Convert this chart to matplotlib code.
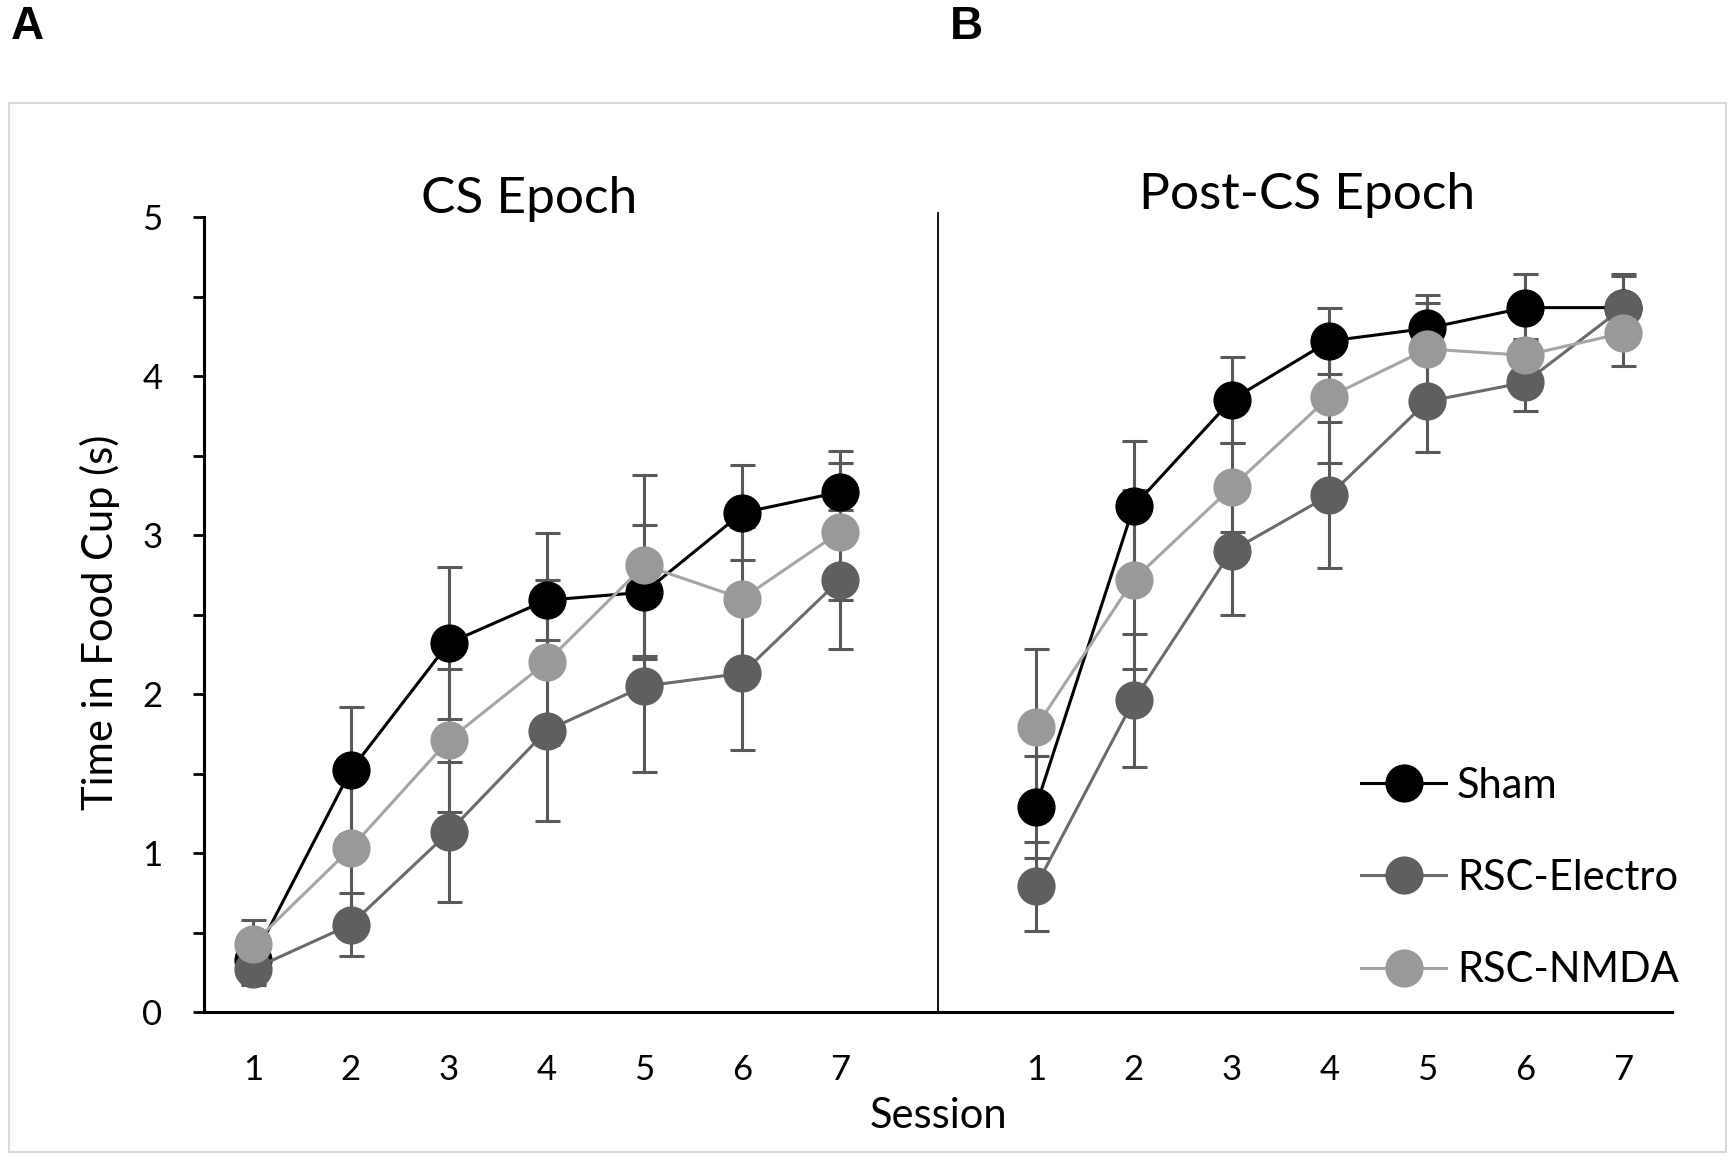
import matplotlib
matplotlib.use("Agg")
import matplotlib.pyplot as plt
import matplotlib as mpl
from matplotlib.patches import Rectangle
from matplotlib.ticker import MultipleLocator

# --- data ---
sessions = [1, 2, 3, 4, 5, 6, 7]
groups = ["Sham", "RSC-Electro", "RSC-NMDA"]

sham_cs = [0.33, 1.52, 2.32, 2.59, 2.64, 3.14, 3.27]
sham_cs_err = [0.15, 0.40, 0.48, 0.42, 0.42, 0.30, 0.26]
electro_cs = [0.27, 0.55, 1.13, 1.77, 2.05, 2.13, 2.72]
electro_cs_err = [0.10, 0.20, 0.44, 0.57, 0.54, 0.48, 0.44]
nmda_cs = [0.43, 1.03, 1.71, 2.20, 2.81, 2.60, 3.02]
nmda_cs_err = [0.15, 0.42, 0.45, 0.52, 0.57, 0.45, 0.43]

sham_post = [1.29, 3.18, 3.85, 4.22, 4.30, 4.43, 4.43]
sham_post_err = [0.32, 0.41, 0.27, 0.21, 0.21, 0.21, 0.20]
electro_post = [0.79, 1.96, 2.90, 3.25, 3.84, 3.96, 4.43]
electro_post_err = [0.28, 0.42, 0.40, 0.46, 0.32, 0.18, 0.21]
nmda_post = [1.79, 2.72, 3.30, 3.87, 4.17, 4.13, 4.27]
nmda_post_err = [0.49, 0.56, 0.28, 0.42, 0.29, 0.10, 0.21]

panel_titles = ["CS Epoch", "Post-CS Epoch"]

# --- style ---
mpl.rc('font', family=['Lato', 'DejaVu Sans'])
marker_col = ['#000000', '#5f5f5f', '#999999']
line_col = ['#000000', '#6b6b6b', '#a6a6a6']
err_col = '#595959'

W, H = 1735, 1159
fig = plt.figure(figsize=(W / 100, H / 100), dpi=100)
ax = fig.add_axes([204 / W, 1 - 1012 / H, 1468 / W, 795 / H])

panels = [
    (sessions, [sham_cs, electro_cs, nmda_cs], [sham_cs_err, electro_cs_err, nmda_cs_err]),
    ([s + 8 for s in sessions], [sham_post, electro_post, nmda_post],
     [sham_post_err, electro_post_err, nmda_post_err]),
]

handles = []
for p, (xs, ys, es) in enumerate(panels):
    for i in range(3):
        ax.errorbar(xs, ys[i], yerr=es[i], fmt='none', ecolor=err_col,
                    elinewidth=2.2, capsize=9, capthick=2.2, zorder=2)
    for i in range(3):
        ln, = ax.plot(xs, ys[i], color=line_col[i], lw=2.2, marker='o',
                      markersize=26.5, markerfacecolor=marker_col[i],
                      markeredgecolor=marker_col[i], zorder=3 + i,
                      label=groups[i])
        if p == 0:
            handles.append(ln)

# divider between the panels
ax.axvline(8, ymin=0, ymax=1.005, color='black', lw=1.3, clip_on=False, zorder=1)

ax.set_xlim(0.5, 15.5)
ax.set_ylim(0, 5)
for s in ['top', 'right']:
    ax.spines[s].set_visible(False)
for s in ['left', 'bottom']:
    ax.spines[s].set_linewidth(2.2)

ax.yaxis.set_major_locator(MultipleLocator(1))
ax.yaxis.set_minor_locator(MultipleLocator(0.5))
ax.tick_params(axis='y', which='both', direction='out', length=8, width=2,
               labelsize=25, pad=22)
ax.set_xticks(sessions + [s + 8 for s in sessions])
ax.set_xticklabels([str(s) for s in sessions] * 2)
ax.tick_params(axis='x', length=0, labelsize=25, pad=30)

ax.text(0.2217, (1012 - 213) / 795, panel_titles[0], transform=ax.transAxes,
        ha='center', va='baseline', fontsize=37)
ax.text(0.7513, (1012 - 209) / 795, panel_titles[1], transform=ax.transAxes,
        ha='center', va='baseline', fontsize=37)

fig.text(100 / W, 1 - 622 / H, "Time in Food Cup (s)", rotation=90,
         ha='center', va='center', fontsize=30)
fig.text(938 / W, 1 - 1116 / H, "Session", ha='center', va='center', fontsize=30)

leg = ax.legend(handles=handles, loc='center left',
                bbox_to_anchor=(1361 / W, 1 - 878 / H),
                bbox_transform=fig.transFigure, frameon=False, fontsize=30,
                handlelength=2.05, handletextpad=0.25, labelspacing=1.3,
                borderpad=0, borderaxespad=0)

fig.text(11 / W, 1 - 39 / H, "A", fontsize=33, fontweight='bold',
         family='Liberation Sans', va='baseline')
fig.text(950 / W, 1 - 39 / H, "B", fontsize=33, fontweight='bold',
         family='Liberation Sans', va='baseline')

fig.patches.append(Rectangle((9 / W, 1 - 1152 / H), 1717 / W, 1049 / H,
                             transform=fig.transFigure, fill=False,
                             edgecolor='#d9d9d9', lw=1.5))

fig.savefig("out.png", dpi=100)
plt.close('all')
